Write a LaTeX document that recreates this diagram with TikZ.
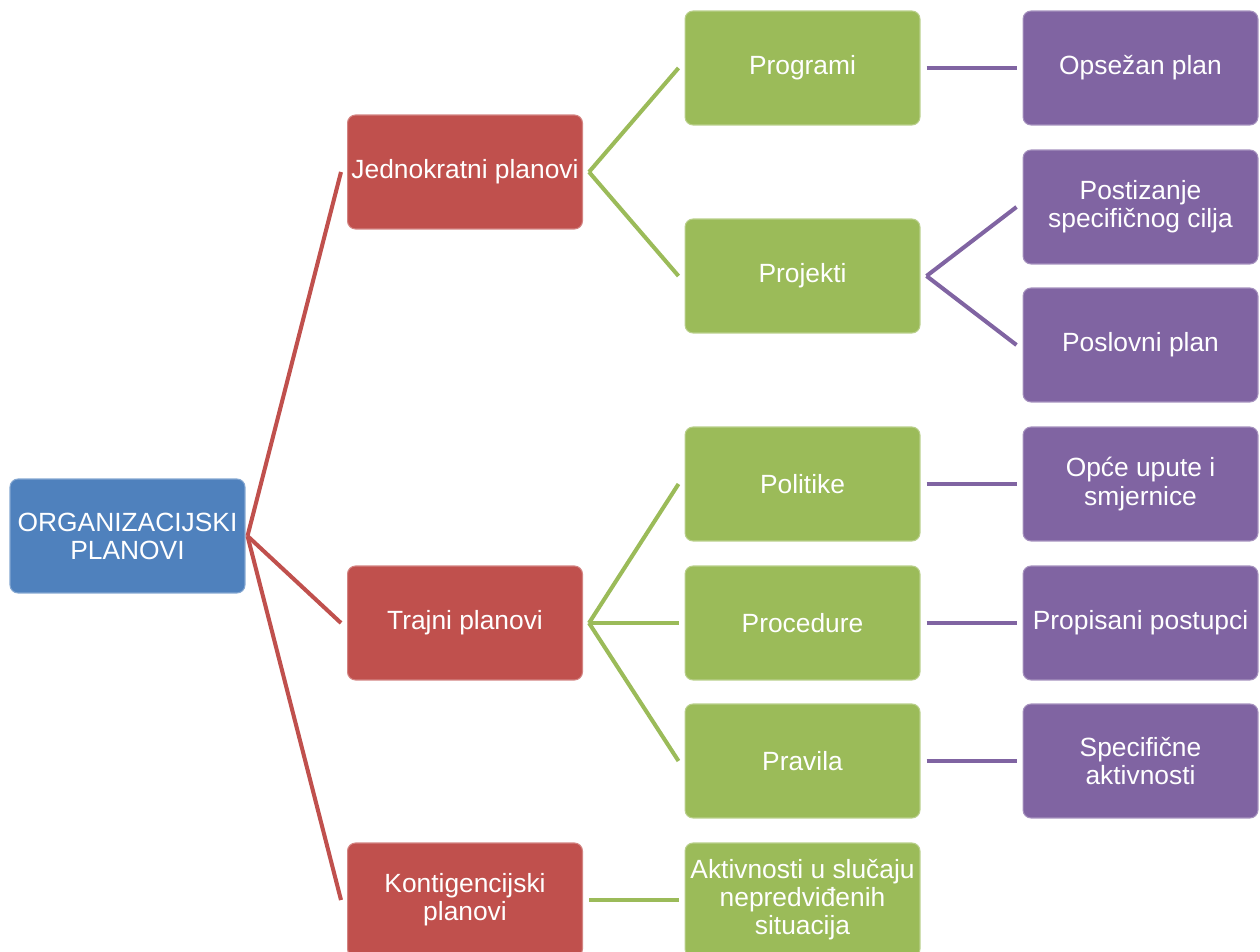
\documentclass[tikz,border=0pt]{standalone}
\usepackage{fontspec}
\setmainfont{Liberation Sans}

\definecolor{planblue}{HTML}{4F81BD}
\definecolor{planred}{HTML}{C0504D}
\definecolor{plangreen}{HTML}{9BBB59}
\definecolor{planviolet}{HTML}{8064A2}

\tikzset{
	plan/.style={rounded corners=0.16cm, minimum width=4.7cm, minimum height=2.28cm,
		text=white, align=center, inner sep=1pt, line width=0.6pt,
		font=\fontsize{15}{16}\selectfont},
	bluebox/.style={plan, fill=planblue, draw=planblue!70!white},
	redbox/.style={plan, fill=planred, draw=planred!70!white},
	greenbox/.style={plan, fill=plangreen, draw=plangreen!70!white},
	violetbox/.style={plan, fill=planviolet, draw=planviolet!70!white},
	redline/.style={draw=planred, line width=2.3pt},
	greenline/.style={draw=plangreen, line width=2.3pt},
	violetline/.style={draw=planviolet, line width=2.3pt}
}

\begin{document}
\begin{tikzpicture}[x=0.02cm, y=-0.02cm]

	\useasboundingbox (0,0) rectangle (1260,952);
	\clip (0,0) rectangle (1260,952);

	\node [bluebox] (org) at (127.5, 536) {ORGANIZACIJSKI\\PLANOVI};

	\node [redbox] (jedno) at (465, 172) {Jednokratni planovi};
	\node [redbox] (trajni) at (465, 623) {Trajni planovi};
	\node [redbox] (konti) at (465, 900) {Kontigencijski\\planovi};

	\node [greenbox] (programi) at (802.5, 68) {Programi};
	\node [greenbox] (projekti) at (802.5, 276) {Projekti};
	\node [greenbox] (politike) at (802.5, 484) {Politike};
	\node [greenbox] (procedure) at (802.5, 623) {Procedure};
	\node [greenbox] (pravila) at (802.5, 761) {Pravila};
	\node [greenbox] (aktiv) at (802.5, 900) {Aktivnosti u slučaju\\nepredviđenih\\situacija};

	\node [violetbox] (opsezan) at (1140.5, 68) {Opsežan plan};
	\node [violetbox] (cilj) at (1140.5, 207) {Postizanje\\specifičnog cilja};
	\node [violetbox] (poslovni) at (1140.5, 345) {Poslovni plan};
	\node [violetbox] (upute) at (1140.5, 484) {Opće upute i\\smjernice};
	\node [violetbox] (postupci) at (1140.5, 623) {Propisani postupci};
	\node [violetbox] (specif) at (1140.5, 761) {Specifične\\aktivnosti};

	\draw [redline] ([xshift=0.04cm]org.east) -- ([xshift=-0.12cm]jedno.west);
	\draw [redline] ([xshift=0.04cm]org.east) -- ([xshift=-0.12cm]trajni.west);
	\draw [redline] ([xshift=0.04cm]org.east) -- ([xshift=-0.12cm]konti.west);

	\draw [greenline] ([xshift=0.12cm]jedno.east) -- ([xshift=-0.12cm]programi.west);
	\draw [greenline] ([xshift=0.12cm]jedno.east) -- ([xshift=-0.12cm]projekti.west);
	\draw [greenline] ([xshift=0.12cm]trajni.east) -- ([xshift=-0.12cm]politike.west);
	\draw [greenline] ([xshift=0.12cm]trajni.east) -- ([xshift=-0.12cm]procedure.west);
	\draw [greenline] ([xshift=0.12cm]trajni.east) -- ([xshift=-0.12cm]pravila.west);
	\draw [greenline] ([xshift=0.12cm]konti.east) -- ([xshift=-0.12cm]aktiv.west);

	\draw [violetline] ([xshift=0.12cm]programi.east) -- ([xshift=-0.12cm]opsezan.west);
	\draw [violetline] ([xshift=0.12cm]projekti.east) -- ([xshift=-0.12cm]cilj.west);
	\draw [violetline] ([xshift=0.12cm]projekti.east) -- ([xshift=-0.12cm]poslovni.west);
	\draw [violetline] ([xshift=0.12cm]politike.east) -- ([xshift=-0.12cm]upute.west);
	\draw [violetline] ([xshift=0.12cm]procedure.east) -- ([xshift=-0.12cm]postupci.west);
	\draw [violetline] ([xshift=0.12cm]pravila.east) -- ([xshift=-0.12cm]specif.west);

\end{tikzpicture}
\end{document}
